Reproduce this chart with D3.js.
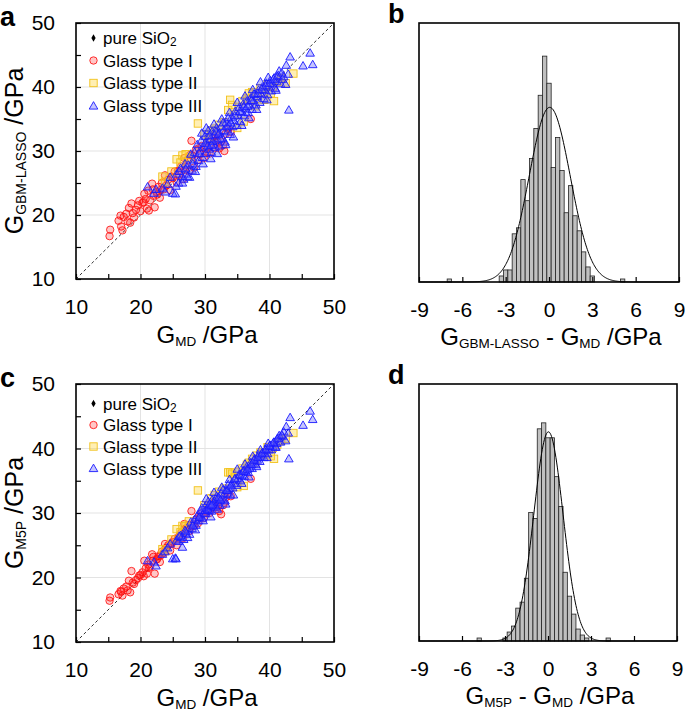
<!DOCTYPE html>
<html>
<head>
<meta charset="utf-8">
<script src="https://cdn.jsdelivr.net/npm/d3@7"></script>
<style>
  body { margin: 0; background: #fff; }
  text { font-family: "Liberation Sans", Arial, sans-serif; fill: #000; }
</style>
</head>
<body>
<div id="chart"></div>
<script>
// ---- data ----
// Glass type I : G_MD, G_GBM-LASSO (panel a), G_M5P (panel c)
var type1MD = [15.2,15.3,16.6,17.0,17.2,17.4,17.8,18.0,18.4,18.6,18.8,19.0,19.3,19.6,20.0,20.3,20.6,20.8,21.0,21.2,21.5,21.8,22.0,22.2,22.5,22.8,23.0,23.3,23.6,24.0,24.3,24.6,25.0,25.3,25.6,26.0,26.3,26.6,27.0,27.3,27.6,27.9,28.0,28.3,28.6,28.9,29.2,29.5,29.8,30.1,30.4,30.7,31.0,31.3,31.6,31.9,32.2,32.5,32.8,33.2,33.6,34.0,37.1,33.0,26.8,21.3,19.8,23.8,16.9,18.2,20.5,21.9,22.6,23.1,24.8,25.8,26.9,27.7,29.0,30.3,31.5,32.0];
var type1A  = [16.7,17.7,19.1,18.2,17.6,19.7,20.2,19.0,18.8,21.8,20.3,19.6,20.8,21.5,20.6,21.9,23.3,22.5,21.0,23.8,22.3,24.9,23.0,21.2,23.6,24.4,22.7,25.0,24.0,24.6,25.5,23.9,25.8,26.8,25.1,26.3,27.6,25.6,27.5,28.6,26.8,31.6,29.3,27.4,30.2,28.6,29.5,30.8,28.9,30.4,31.5,29.6,31.0,32.2,30.5,31.8,30.4,31.5,30.9,32.7,33.4,33.0,35.0,30.0,28.9,20.7,22.2,26.2,19.9,21.1,22.0,24.0,23.2,23.9,26.0,26.9,27.0,29.4,30.4,29.8,32.5,32.4];
var type1C  = [16.4,16.9,17.4,17.8,17.2,18.3,18.6,18.0,17.7,21.0,19.2,19.0,19.6,19.9,20.4,20.8,22.6,21.4,20.6,22.0,21.7,23.6,23.2,20.6,22.8,23.3,22.4,24.0,23.8,24.6,25.0,24.2,25.5,26.0,25.0,26.4,26.9,26.1,27.6,27.5,27.2,30.3,28.2,28.0,29.0,28.4,29.3,30.0,29.2,30.1,30.6,30.0,30.8,31.4,30.9,31.6,30.3,29.8,31.2,32.4,33.0,32.6,35.3,31.6,28.3,21.5,20.3,25.2,17.9,19.5,20.2,22.6,22.9,23.4,25.3,26.1,27.4,28.2,29.4,30.3,31.8,31.0];

// Glass type II
var type2MD = [23.4,23.8,25.6,26.5,26.2,27.5,28.9,30.5,31.5,32.2,33.0,33.6,33.9,34.2,34.6,35.2,35.8,36.0,36.5,37.3,38.0,38.6,39.2,39.7,40.2,40.7,41.2,41.8,42.5,43.7,37.8,35.0,24.8,27.0,29.9,31.0,36.8,39.0,40.5];
var type2A  = [26.0,25.2,28.7,29.3,28.2,29.0,34.3,31.8,33.5,34.1,34.5,36.4,38.0,37.2,35.7,36.9,37.8,34.6,38.2,39.2,38.5,39.8,38.0,40.4,39.0,37.8,40.8,41.4,40.6,42.1,37.0,33.6,26.8,29.5,32.6,33.2,39.0,39.2,40.0];
var type2C  = [24.4,24.1,27.5,28.0,27.0,28.7,33.5,31.0,32.8,33.3,33.8,36.3,36.3,36.1,35.5,36.4,36.9,34.2,37.5,38.4,38.9,39.4,39.0,40.2,38.8,38.4,40.6,41.2,41.5,42.4,37.8,34.0,25.9,28.0,31.2,32.3,37.8,39.2,40.1];

// Glass type III
var type3MD = [24.2,24.6,25.0,25.4,25.6,25.9,26.2,26.4,26.7,26.9,27.1,27.4,27.6,27.8,28.0,28.2,28.4,28.6,28.8,29.0,29.2,29.4,29.6,29.8,30.0,30.1,30.3,30.5,30.6,30.8,31.0,31.1,31.3,31.5,31.6,31.8,32.0,32.2,32.3,32.5,32.7,32.9,33.1,33.3,33.5,33.7,33.9,34.1,34.3,34.5,34.7,34.9,35.1,35.3,35.5,35.7,35.9,36.1,36.3,36.5,36.7,36.9,37.1,37.3,37.5,37.7,37.9,38.1,38.3,38.5,38.7,38.9,39.1,39.3,39.5,39.7,39.9,40.1,40.3,40.5,40.7,40.9,41.1,41.4,41.7,42.0,42.2,42.5,42.6,42.9,43.0,43.2,45.2,46.3,46.7,21.1,22.1,22.4,23.4,23.8,25.5,26.5,27.3,28.5,29.7,30.9,31.9,33.2,34.4,35.7,36.8,38.0,39.6,41.0,30.2,31.4,32.6,33.8,35.0,36.2,37.4,38.6,39.8,41.5,26.0,27.0,28.1,29.1,30.0,30.4,30.7,31.2,31.7,32.1,32.4,32.8,33.4,33.6,34.0,34.6,35.4,36.0,36.6,37.2,37.6,38.2,38.8,39.4,40.0,40.6,41.2,41.9,29.5,31.0];
var type3A  = [24.8,25.9,23.4,23.3,26.4,25.0,27.3,26.0,25.6,28.0,26.4,27.8,25.9,29.5,27.0,28.6,29.8,27.6,31.0,28.5,30.0,31.6,29.0,30.6,32.3,29.6,31.2,33.2,30.3,31.8,29.8,33.0,31.0,32.5,30.6,33.6,31.7,32.8,30.8,33.8,32.0,33.2,31.4,34.5,33.0,34.0,32.6,35.2,33.8,34.8,36.2,34.0,35.6,36.8,34.6,36.0,37.3,35.5,36.6,37.8,36.0,37.2,38.3,36.5,37.8,38.8,37.2,38.5,39.5,37.6,38.9,40.0,38.2,39.5,40.6,38.8,40.0,41.0,39.4,40.5,41.4,39.8,40.9,41.8,40.5,41.2,41.6,40.4,43.4,42.0,36.4,44.7,43.3,45.3,43.5,24.4,23.4,24.0,24.2,23.6,24.5,25.0,26.0,26.8,28.0,28.8,29.6,31.0,32.2,34.0,35.2,36.5,38.0,39.5,33.6,34.2,35.0,36.0,37.6,38.6,39.6,40.8,41.5,42.5,26.8,27.2,28.0,29.6,31.2,30.8,32.4,31.5,33.0,32.6,31.9,34.4,33.8,35.2,34.4,35.5,36.2,36.9,37.0,37.9,38.9,39.0,39.6,40.2,40.6,41.2,41.7,42.2,32.8,30.9];
var type3C  = [24.6,25.2,22.9,23.0,25.8,25.6,26.5,26.2,25.9,27.3,26.8,27.4,26.7,28.6,27.6,28.3,29.0,28.1,29.6,28.8,29.5,30.4,29.2,30.0,31.0,29.9,30.6,31.8,30.4,31.0,30.3,32.0,31.0,31.8,30.9,32.6,31.6,32.2,31.2,33.0,32.1,32.8,31.9,33.6,33.0,33.8,32.8,34.5,33.9,34.6,35.3,34.3,35.3,36.0,35.0,35.8,36.5,35.7,36.4,37.2,36.3,37.0,37.8,36.9,37.6,38.4,37.5,38.2,39.0,38.0,38.8,39.4,38.6,39.3,40.0,39.2,39.8,40.5,39.8,40.3,41.0,40.2,40.8,41.6,41.0,41.9,42.6,41.2,43.4,42.4,38.4,44.8,43.6,45.8,44.5,22.6,22.4,21.8,23.6,24.0,22.9,24.7,26.2,27.4,28.8,29.4,30.6,31.4,32.8,34.6,35.6,37.2,38.6,40.2,32.2,33.2,34.0,35.2,36.8,37.6,38.8,39.8,40.8,42.0,26.4,27.1,28.0,29.3,30.4,30.6,31.4,31.3,32.2,32.4,32.0,33.6,33.5,34.4,34.2,35.3,35.9,36.5,36.8,37.5,38.2,38.6,39.2,39.8,40.4,40.9,41.5,42.1,30.8,31.2];

// pure SiO2
var sio2MD = [31.3];
var sio2A  = [31.5];
var sio2C  = [31.2];

// histograms: bin centres (GPa, bin width 0.3) and counts
var histBinWidth = 0.3;
var histBCenters = [-6.9,-3.3,-3.0,-2.7,-2.4,-2.1,-1.8,-1.5,-1.2,-0.9,-0.6,-0.3,0,0.3,0.6,0.9,1.2,1.5,1.8,2.1,2.4,2.7,3.0,5.1];
var histBCounts  = [1,2,4,4,16,18,34,27,41,51,62,75,66,38,48,37,23,32,22,17,10,5,2,1];
var histDCenters = [-4.8,-3.0,-2.7,-2.4,-2.1,-1.8,-1.5,-1.2,-0.9,-0.6,-0.3,0,0.3,0.6,0.9,1.2,1.5,1.8,2.1,2.4,2.7,4.2];
var histDCounts  = [1,1,3,5,11,13,21,43,41,71,73,68,68,55,45,23,15,9,4,2,1,1];
// fitted normal curves: [mean, sigma, peak count]
var fitB = [0.05, 1.42, 58];
var fitD = [0.03, 1.02, 70];

var scatterTicks = [10, 15, 20, 25, 30, 35, 40, 45, 50];
var scatterGrid = [20, 30, 40];
var histTicks = [-9, -6, -3, 0, 3, 6, 9];

// ---- drawing ----
var svg = d3.select("#chart").append("svg")
    .attr("width", 685)
    .attr("height", 712);

function zip(xs, ys) {
  return xs.map(function(x, i) { return {x: x, y: ys[i]}; });
}

function drawSymbol(g, kind, cx, cy) {
  if (kind === "I") {
    g.append("circle").attr("cx", cx).attr("cy", cy).attr("r", 3.7)
      .attr("fill", "rgba(255,0,0,0.22)").attr("stroke", "#ff1a1a").attr("stroke-width", 0.9);
  } else if (kind === "II") {
    g.append("rect").attr("x", cx - 3.7).attr("y", cy - 3.7).attr("width", 7.4).attr("height", 7.4)
      .attr("fill", "rgba(255,210,40,0.35)").attr("stroke", "#f2c21b").attr("stroke-width", 0.9);
  } else if (kind === "III") {
    g.append("path").attr("d", d3.symbol(d3.symbolTriangle, 32)())
      .attr("transform", "translate(" + cx + "," + (cy + 0.6) + ")")
      .attr("fill", "rgba(90,90,255,0.35)").attr("stroke", "#1a1aff").attr("stroke-width", 0.9);
  } else {
    g.append("path").attr("d", d3.symbol(d3.symbolDiamond, 16)())
      .attr("transform", "translate(" + cx + "," + cy + ")")
      .attr("fill", "#000");
  }
}

function subLabel(t, parts, subSize) {
  parts.forEach(function(p) {
    var ts = t.append("tspan").text(p[0]);
    if (p[1]) ts.attr("font-size", subSize || "70%").attr("baseline-shift", "-20%");
  });
}

function scatterPanel(box, letter, ySub, yPredKey, legendRows) {
  var g = svg.append("g").attr("transform", "translate(" + box.x + "," + box.y + ")");
  var x = d3.scaleLinear().domain([10, 50]).range([0, box.w]);
  var y = d3.scaleLinear().domain([10, 50]).range([box.h, 0]);

  // grid
  g.selectAll(".gx").data(scatterGrid).enter().append("line")
    .attr("x1", d => x(d)).attr("x2", d => x(d)).attr("y1", 0).attr("y2", box.h)
    .attr("stroke", "#e3e3e3").attr("stroke-width", 1);
  g.selectAll(".gy").data(scatterGrid).enter().append("line")
    .attr("y1", d => y(d)).attr("y2", d => y(d)).attr("x1", 0).attr("x2", box.w)
    .attr("stroke", "#e3e3e3").attr("stroke-width", 1);

  // diagonal
  g.append("line")
    .attr("x1", x(10)).attr("y1", y(10)).attr("x2", x(50)).attr("y2", y(50))
    .attr("stroke", "#333").attr("stroke-width", 1).attr("stroke-dasharray", "3,2.5");

  // SiO2 first so it sits under the glasses, as in the figure
  var sets = [
    ["S", zip(sio2MD, yPredKey === "A" ? sio2A : sio2C)],
    ["I", zip(type1MD, yPredKey === "A" ? type1A : type1C)],
    ["II", zip(type2MD, yPredKey === "A" ? type2A : type2C)],
    ["III", zip(type3MD, yPredKey === "A" ? type3A : type3C)]
  ];
  sets.forEach(function(s) {
    var sg = g.append("g");
    s[1].forEach(function(d) { drawSymbol(sg, s[0], x(d.x), y(d.y)); });
  });

  // axes
  var fmt = d => (d % 10 === 0 ? d : "");
  var xa = g.append("g").attr("transform", "translate(0," + box.h + ")")
    .call(d3.axisBottom(x).tickValues(scatterTicks).tickSize(-5).tickPadding(20).tickFormat(fmt));
  var ya = g.append("g")
    .call(d3.axisLeft(y).tickValues(scatterTicks).tickSize(-5).tickPadding(21).tickFormat(fmt));
  [xa, ya].forEach(function(a) {
    a.select(".domain").remove();
    a.selectAll("line").attr("stroke", "#000").attr("stroke-width", 1.2);
    a.selectAll("text").attr("font-size", 21).attr("font-family", "Liberation Sans, Arial, sans-serif").attr("fill", "#000");
  });

  g.append("rect").attr("width", box.w).attr("height", box.h)
    .attr("fill", "none").attr("stroke", "#000").attr("stroke-width", 1.6);

  // legend
  var labels = [["S", [["pure SiO"], ["2", true]]], ["I", [["Glass type I"]]], ["II", [["Glass type II"]]], ["III", [["Glass type III"]]]];
  labels.forEach(function(l, i) {
    var ry = legendRows[i];
    drawSymbol(g, l[0], 17.5, ry);
    var t = g.append("text").attr("x", 27).attr("y", ry + 6).attr("font-size", 17);
    subLabel(t, l[1]);
  });

  // titles
  var xt = svg.append("text").attr("x", box.x + box.w / 2 + 2).attr("y", box.y + box.h + 64)
    .attr("text-anchor", "middle").attr("font-size", 24);
  subLabel(xt, [["G"], ["MD", true], [" /GPa"]], 13.5);
  var yt = svg.append("text")
    .attr("transform", "translate(" + 23 + "," + (box.y + box.h / 2) + ") rotate(-90)")
    .attr("text-anchor", "middle").attr("font-size", 25);
  subLabel(yt, [["G"], [ySub, true], [" /GPa"]], 14);

  svg.append("text").attr("x", 0).attr("y", box.y + 3).attr("font-size", 27)
    .attr("font-weight", "bold").text(letter);
}

function histPanel(box, letter, centers, counts, fit, titleParts) {
  var g = svg.append("g").attr("transform", "translate(" + box.x + "," + box.y + ")");
  var x = d3.scaleLinear().domain([-9, 9]).range([0, box.w]);
  var y = d3.scaleLinear().domain([0, 86]).range([box.h, 0]);
  var bins = zip(centers, counts);

  g.selectAll("rect.bar").data(bins).enter().append("rect")
    .attr("class", "bar")
    .attr("x", d => x(d.x - histBinWidth / 2))
    .attr("width", d => x(d.x + histBinWidth / 2) - x(d.x - histBinWidth / 2))
    .attr("y", d => y(d.y))
    .attr("height", d => box.h - y(d.y))
    .attr("fill", "#c0c0c0").attr("stroke", "#222").attr("stroke-width", 0.8);

  var curveX = d3.range(-9, 9.001, 0.05);
  var line = d3.line()
    .x(d => x(d))
    .y(d => y(fit[2] * Math.exp(-Math.pow(d - fit[0], 2) / (2 * fit[1] * fit[1]))));
  g.append("path").datum(curveX).attr("d", line)
    .attr("fill", "none").attr("stroke", "#000").attr("stroke-width", 1);

  var xa = g.append("g").attr("transform", "translate(0," + box.h + ")")
    .call(d3.axisBottom(x).tickValues(histTicks).tickSize(-5).tickPadding(20).tickFormat(d => String(d)));
  xa.select(".domain").remove();
  xa.selectAll("line").attr("stroke", "#000").attr("stroke-width", 1.2);
  xa.selectAll("text").attr("font-size", 21).attr("font-family", "Liberation Sans, Arial, sans-serif").attr("fill", "#000");

  g.append("rect").attr("width", box.w).attr("height", box.h)
    .attr("fill", "none").attr("stroke", "#000").attr("stroke-width", 1.6);

  var t = svg.append("text").attr("x", box.x + box.w / 2 + 2).attr("y", box.y + box.h + 63)
    .attr("text-anchor", "middle").attr("font-size", 24);
  subLabel(t, titleParts, 13.5);

  svg.append("text").attr("x", box.x - 31).attr("y", box.y + 0).attr("font-size", 27)
    .attr("font-weight", "bold").text(letter);
}

scatterPanel({x: 76, y: 23, w: 258, h: 256}, "a", "GBM-LASSO", "A", [15, 37.5, 60, 83]);
histPanel({x: 419, y: 23, w: 260, h: 259}, "b", histBCenters, histBCounts, fitB,
  [["G"], ["GBM-LASSO", true], [" - G"], ["MD", true], [" /GPa"]]);
scatterPanel({x: 76, y: 384, w: 258, h: 258}, "c", "M5P", "C", [19.5, 41, 62.5, 84.5]);
histPanel({x: 419, y: 384, w: 258, h: 257}, "d", histDCenters, histDCounts, fitD,
  [["G"], ["M5P", true], [" - G"], ["MD", true], [" /GPa"]]);
</script>
</body>
</html>
